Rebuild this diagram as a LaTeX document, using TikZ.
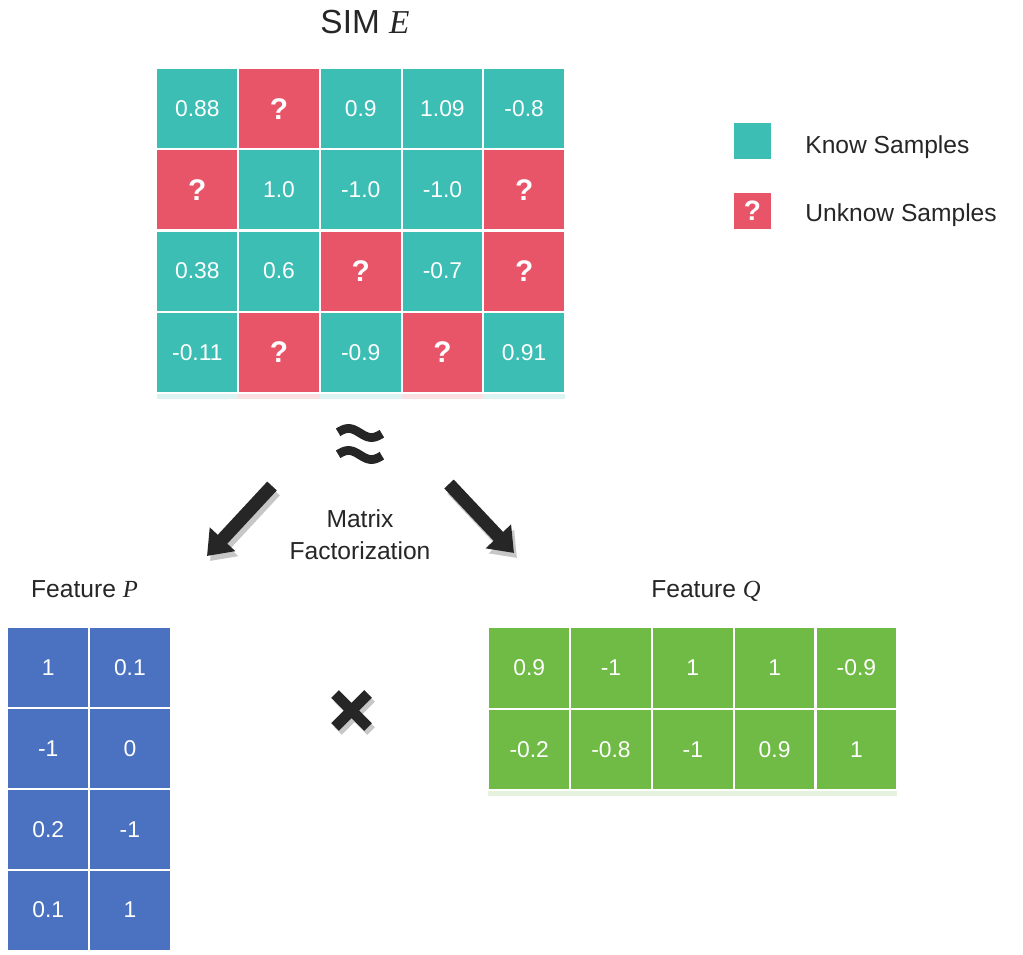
\documentclass[tikz,border=0pt]{standalone}
\usepackage{fontspec}
\setmainfont{Liberation Sans}
\newfontfamily\varfont{Liberation Serif}
\usetikzlibrary{positioning}
\usetikzlibrary{arrows.meta}
\definecolor{knowcol}{RGB}{60,190,180}
\definecolor{unkcol}{RGB}{232,84,104}
\definecolor{pcol}{RGB}{74,114,192}
\definecolor{qcol}{RGB}{112,187,70}
\definecolor{inkcol}{RGB}{38,38,38}
\newcommand{\var}[1]{{\varfont\itshape #1}}
\tikzset{
    cell/.style = {rectangle, draw=white, line width=1.1pt, minimum width=1.634cm, minimum height=1.62cm,
        inner sep=0pt, text=white, font=\fontsize{13}{15}\selectfont},
    known/.style = {cell, fill=knowcol},
    unknown/.style = {cell, fill=unkcol, font=\fontsize{17}{20}\selectfont\bfseries},
    pcell/.style = {cell, fill=pcol},
    qcell/.style = {cell, fill=qcol},
    plaintext/.style = {text=inkcol, inner sep=0pt, font=\fontsize{14}{18}\selectfont},
    fat arrow/.style = {line width=7.4pt, -{Triangle[length=13pt, width=19pt]}},
    wave/.style = {line width=5pt, inkcol}}

\begin{document}
\begin{tikzpicture}[x=0.02cm, y=-0.02cm]
    \useasboundingbox[fill=white] (0,0) rectangle (1023,955);

    % similarity matrix
    \node[plaintext, font=\fontsize{19}{22}\selectfont, anchor=base] (simtitle) at (365,34) {SIM \var{E}};
    \foreach \c/\col in {1/knowcol,2/unkcol,3/knowcol,4/unkcol,5/knowcol}
        \fill[\col, opacity=0.18] ({156.5+81.7*(\c-1)},392.7) rectangle ++(81.7,6);
    \foreach \r/\c/\v in {1/1/0.88, 1/3/0.9, 1/4/1.09, 1/5/-0.8,
                          2/2/1.0, 2/3/-1.0, 2/4/-1.0,
                          3/1/0.38, 3/2/0.6, 3/4/-0.7,
                          4/1/-0.11, 4/3/-0.9, 4/5/0.91}
        \node[known] (e-\r-\c) at ({156.5+81.7*(\c-0.5)},{68.3+81.1*(\r-0.5)}) {\v};
    \foreach \r/\c in {1/2, 2/1, 2/5, 3/3, 3/5, 4/2, 4/4}
        \node[unknown] (e-\r-\c) at ({156.5+81.7*(\c-0.5)},{68.3+81.1*(\r-0.5)}) {?};

    % legend
    \node[known, draw=none, minimum width=0.73cm, minimum height=0.72cm] (kn) at (752.5,141.3) {};
    \node[plaintext, anchor=base west] (kntext) at (805,154) {Know Samples};
    \node[unknown, draw=none, minimum width=0.73cm, minimum height=0.72cm,
          font=\fontsize{16}{18}\selectfont\bfseries] (un) at (752.5,210.7) {?};
    \node[plaintext, anchor=base west] (untext) at (805,222) {Unknow Samples};

    % approx sign
    \draw[wave] plot[domain=-0.95:0.95, samples=30] ({360+23*\x},{433+4.5*sin(180*\x)});
    \draw[wave] plot[domain=-0.95:0.95, samples=30] ({360+23*\x},{455+4.5*sin(180*\x)});

    \node[plaintext, align=center] (mf) at (360,535) {Matrix\\Factorization};

    % factorization arrows
    \coordinate (la-s) at (272,486);
    \coordinate (la-e) at (207,556);
    \coordinate (ra-s) at (449,484);
    \coordinate (ra-e) at (514,553);
    \draw[fat arrow, black!22] ([shift={(3,5)}]la-s) -- ([shift={(3,5)}]la-e);
    \draw[fat arrow, black!22] ([shift={(3,5)}]ra-s) -- ([shift={(3,5)}]ra-e);
    \draw[fat arrow, inkcol] (la-s) -- (la-e);
    \draw[fat arrow, inkcol] (ra-s) -- (ra-e);

    % feature P
    \node[plaintext, anchor=base] (ptitle) at (84.5,597) {Feature \var{P}};
    \foreach \r/\a/\b in {1/1/0.1, 2/-1/0, 3/0.2/-1, 4/0.1/1} {
        \node[pcell] (p-\r-1) at (48.2,{627.3+80.8*(\r-0.5)}) {\a};
        \node[pcell] (p-\r-2) at (129.9,{627.3+80.8*(\r-0.5)}) {\b};
    }

    % times sign
    \draw[line width=6.2pt, black!22] (338,698) -- (371,731) (371,698) -- (338,731);
    \draw[line width=6.2pt, inkcol] (335,694) -- (368,727) (368,694) -- (335,727);

    % feature Q
    \node[plaintext, anchor=base] (qtitle) at (706,597) {Feature \var{Q}};
    \fill[qcol, opacity=0.18] (488.3,790) rectangle (897.3,796);
    \foreach \c/\a/\b in {1/0.9/-0.2, 2/-1/-0.8, 3/1/-1, 4/1/0.9, 5/-0.9/1} {
        \node[qcell] (q-1-\c) at ({488.3+81.8*(\c-0.5)},668) {\a};
        \node[qcell] (q-2-\c) at ({488.3+81.8*(\c-0.5)},749.3) {\b};
    }
\end{tikzpicture}
\end{document}
